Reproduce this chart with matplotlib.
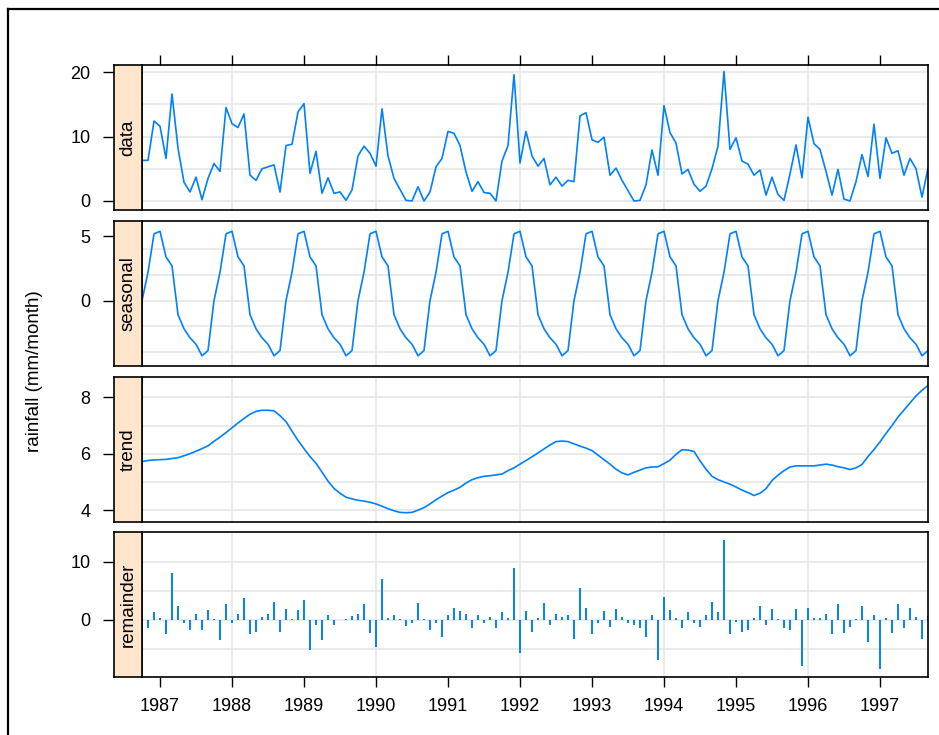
import numpy as np
import matplotlib.pyplot as plt
from matplotlib.lines import Line2D

# monthly rainfall, Oct 1986 - Sep 1997 (mm/month)
rainfall = [6.3, 6.3, 12.4, 11.6, 6.6, 16.6, 8.2, 2.9, 1.4, 3.7, 0.2, 3.5,
            5.8, 4.6, 14.5, 12.0, 11.4, 13.5, 4.0, 3.2, 5.0, 5.3, 5.6, 1.4,
            8.6, 8.8, 13.8, 15.1, 4.3, 7.7, 1.2, 3.6, 1.2, 1.4, 0.1, 1.7,
            7.0, 8.5, 7.4, 5.4, 14.3, 7.0, 3.5, 1.8, 0.1, 0.0, 2.2, 0.0,
            1.4, 5.3, 6.6, 10.8, 10.5, 8.6, 4.5, 1.5, 3.0, 1.3, 1.2, 0.0,
            6.2, 8.6, 19.6, 5.9, 10.8, 7.0, 5.4, 6.6, 2.5, 3.7, 2.3, 3.2,
            3.0, 13.2, 13.7, 9.5, 9.1, 9.9, 4.0, 5.1, 3.2, 1.6, 0.0, 0.1,
            2.5, 7.9, 4.0, 14.8, 10.6, 9.0, 4.2, 4.9, 2.6, 1.5, 2.3, 5.0,
            8.5, 20.1, 8.0, 9.8, 6.2, 5.7, 4.0, 4.8, 0.9, 3.7, 1.0, 0.1,
            4.2, 8.7, 3.6, 13.0, 8.9, 8.0, 4.6, 0.9, 4.9, 0.3, 0.0, 3.0,
            7.2, 3.8, 11.9, 3.5, 9.8, 7.4, 7.8, 4.0, 6.6, 5.0, 0.6, 5.1]

# seasonal component (Oct ... Sep each row)
seasonal = [0.0, 2.2, 5.2, 5.4, 3.4, 2.7, -1.1, -2.2, -2.9, -3.4, -4.3, -3.9,
            0.0, 2.2, 5.2, 5.4, 3.4, 2.7, -1.1, -2.2, -2.9, -3.4, -4.3, -3.9,
            0.0, 2.2, 5.2, 5.4, 3.4, 2.7, -1.1, -2.2, -2.9, -3.4, -4.3, -3.9,
            0.0, 2.2, 5.2, 5.4, 3.4, 2.7, -1.1, -2.2, -2.9, -3.4, -4.3, -3.9,
            0.0, 2.2, 5.2, 5.4, 3.4, 2.7, -1.1, -2.2, -2.9, -3.4, -4.3, -3.9,
            0.0, 2.2, 5.2, 5.4, 3.4, 2.7, -1.1, -2.2, -2.9, -3.4, -4.3, -3.9,
            0.0, 2.2, 5.2, 5.4, 3.4, 2.7, -1.1, -2.2, -2.9, -3.4, -4.3, -3.9,
            0.0, 2.2, 5.2, 5.4, 3.4, 2.7, -1.1, -2.2, -2.9, -3.4, -4.3, -3.9,
            0.0, 2.2, 5.2, 5.4, 3.4, 2.7, -1.1, -2.2, -2.9, -3.4, -4.3, -3.9,
            0.0, 2.2, 5.2, 5.4, 3.4, 2.7, -1.1, -2.2, -2.9, -3.4, -4.3, -3.9,
            0.0, 2.2, 5.2, 5.4, 3.4, 2.7, -1.1, -2.2, -2.9, -3.4, -4.3, -3.9]

trend = [5.72, 5.76, 5.78, 5.79, 5.80, 5.83, 5.86, 5.93, 6.00, 6.09, 6.18, 6.28,
         6.44, 6.59, 6.75, 6.92, 7.09, 7.25, 7.40, 7.50, 7.54, 7.54, 7.52, 7.35,
         7.14, 6.80, 6.47, 6.18, 5.90, 5.66, 5.35, 5.03, 4.77, 4.60, 4.46, 4.40,
         4.35, 4.32, 4.28, 4.22, 4.14, 4.05, 3.98, 3.92, 3.91, 3.92, 4.00, 4.09,
         4.22, 4.37, 4.50, 4.62, 4.71, 4.81, 4.96, 5.08, 5.15, 5.20, 5.22, 5.25,
         5.28, 5.40, 5.50, 5.63, 5.76, 5.89, 6.03, 6.17, 6.31, 6.43, 6.45, 6.43,
         6.35, 6.27, 6.20, 6.11, 5.95, 5.79, 5.63, 5.45, 5.32, 5.25, 5.34, 5.42,
         5.50, 5.53, 5.54, 5.65, 5.77, 5.98, 6.14, 6.13, 6.08, 5.75, 5.45, 5.20,
         5.08, 5.00, 4.92, 4.82, 4.71, 4.62, 4.52, 4.60, 4.76, 5.05, 5.24, 5.40,
         5.53, 5.57, 5.57, 5.57, 5.57, 5.60, 5.63, 5.60, 5.54, 5.50, 5.44, 5.50,
         5.62, 5.90, 6.15, 6.42, 6.72, 7.00, 7.30, 7.55, 7.80, 8.05, 8.25, 8.42]

remainder = [0.5, -1.4, 1.4, 0.4, -2.5, 8.1, 2.4, -0.6, -1.7, 1.1, -1.7, 1.7,
             0.1, -3.5, 2.7, -0.6, 1.1, 3.7, -2.5, -2.0, 0.5, 1.1, 3.0, -2.0,
             1.8, 0.1, 1.7, 3.5, -5.1, -0.9, -3.5, 0.9, -0.9, 0.0, 0.1, 0.6,
             1.1, 2.7, -2.2, -4.6, 7.1, 0.3, 0.9, 0.1, -1.0, -0.6, 2.9, 0.1,
             -1.7, -0.6, -3.0, 0.9, 2.1, 1.5, 1.1, -1.4, 0.9, -0.6, 0.5, -1.4,
             1.3, 0.3, 9.0, -5.6, 1.5, -2.0, 0.3, 2.9, -0.9, 1.1, 0.5, 0.9,
             -3.3, 5.5, 2.1, -2.5, -0.6, 1.5, -1.2, 1.9, 0.5, -0.6, -0.9, -1.4,
             -3.0, 0.9, -6.9, 3.9, 1.7, 0.3, -1.4, 1.3, -0.6, -1.2, 0.9, 3.1,
             1.3, 13.7, -2.5, -0.4, -2.0, -1.7, 0.3, 2.4, -0.9, 1.9, 0.1, -1.4,
             -1.7, 1.9, -7.9, 2.1, 0.3, 0.3, 1.1, -2.5, 2.7, -2.2, -1.2, 0.1,
             2.4, -3.8, 0.9, -8.5, 0.3, -2.2, 2.7, -1.4, 2.1, 0.5, -3.3, 0.6]

panel_names = ['data', 'seasonal', 'trend', 'remainder']
panel_ticks = [[0, 10, 20], [0, 5], [4, 6, 8], [0, 10]]
panel_grid = [[0, 5, 10, 15, 20], [-4, -2, 0, 2, 4], [4, 5, 6, 7, 8], [-5, 0, 5, 10]]
panel_ylim = [(-1.4, 21.1), (-5.1, 6.2), (3.58, 8.72), (-9.8, 15.1)]
year_ticks = list(range(1987, 1998))
year_grid = [1988, 1990, 1992, 1994, 1996]

# time in decimal years, first month Oct 1986
time = 1986.75 + np.arange(len(rainfall)) / 12.0

line_col = '#0080ff'
grid_col = '#e6e6e6'
strip_col = '#ffe5cc'
plt.rcParams['font.family'] = ['Liberation Sans', 'DejaVu Sans']
fs = 13

fig = plt.figure(figsize=(9.39, 7.35), dpi=100)
W, H = 939.0, 735.0

panel_top = [65, 221, 377, 532]   # pixel rows
panel_h = 145
px_left, px_right = 142, 928
strip_left = 114

series = [rainfall, seasonal, trend, remainder]
for k, name in enumerate(panel_names):
    bottom = 1 - (panel_top[k] + panel_h) / H
    ax = fig.add_axes([px_left / W, bottom, (px_right - px_left) / W, panel_h / H])
    sax = fig.add_axes([strip_left / W, bottom, (px_left - strip_left) / W, panel_h / H])

    vals = np.array(series[k])
    for g in panel_grid[k]:
        ax.axhline(g, color=grid_col, lw=1.2, zorder=0)
    for g in year_grid:
        ax.axvline(g, color=grid_col, lw=1.2, zorder=0)

    if name == 'remainder':
        ax.vlines(time, 0, vals, color=line_col, lw=1.4)
    else:
        ax.plot(time, vals, color=line_col, lw=1.2)

    ax.set_ylim(panel_ylim[k])
    ax.set_xlim(time[0], time[-1])
    ax.set_yticks([])

    if name == 'data':
        ax.xaxis.set_ticks_position('top')
        ax.set_xticks(year_ticks)
        ax.tick_params(axis='x', length=7, width=1, labeltop=False, labelbottom=False)
    elif name == 'remainder':
        ax.set_xticks(year_ticks)
        ax.tick_params(axis='x', length=7, width=1, labelsize=fs, pad=8)
    else:
        ax.set_xticks([])
    for s in ax.spines.values():
        s.set_linewidth(1.2)

    # strip on the left with the y axis
    sax.set_facecolor(strip_col)
    sax.set_ylim(panel_ylim[k])
    sax.set_xticks([])
    sax.set_yticks(panel_ticks[k])
    sax.tick_params(axis='y', length=8, width=1, labelsize=fs, pad=9)
    for s in sax.spines.values():
        s.set_linewidth(1.2)
    sax.text(0.5, 0.5, name, rotation=90, ha='center', va='center',
             fontsize=fs + 0.5, transform=sax.transAxes)

fig.text(35 / W, 1 - 371 / H, 'rainfall (mm/month)', rotation=90,
         ha='center', va='center', fontsize=13.5)

# outer frame (cut off at right and bottom)
fig.add_artist(Line2D([8 / W, 8 / W], [1 - 9 / H, 0], transform=fig.transFigure, color='k', lw=1.6))
fig.add_artist(Line2D([8 / W, 1], [1 - 9 / H, 1 - 9 / H], transform=fig.transFigure, color='k', lw=1.6))

plt.savefig('out.png', dpi=100)
